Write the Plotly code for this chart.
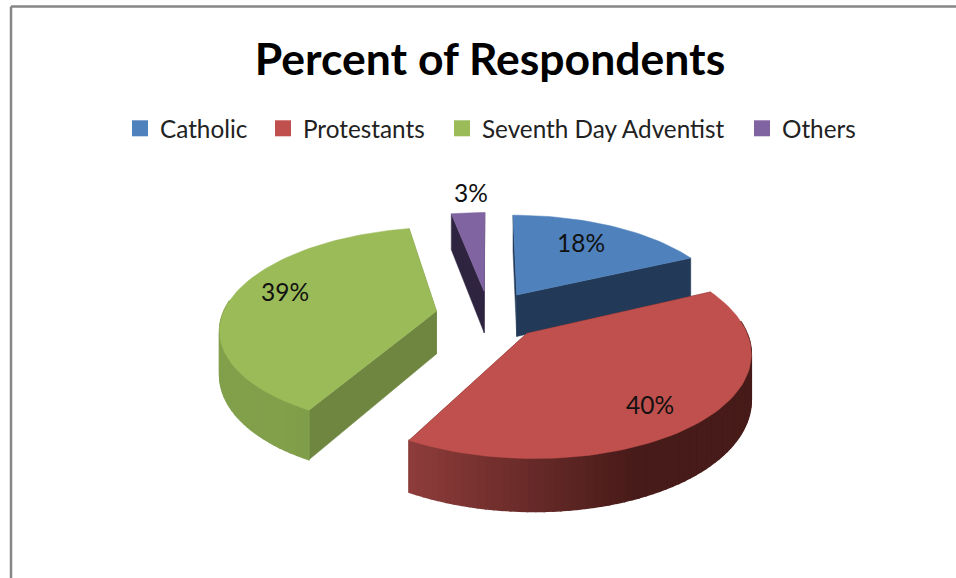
import numpy as np
import plotly.graph_objects as go

categories = ["Catholic", "Protestants", "Seventh Day Adventist", "Others"]
percent = [18, 40, 39, 3]
colors = ["#4f81bd", "#c0504d", "#9bbb59", "#8064a2"]
cut_colors = ["#223a58", "#5a2120", "#6e8640", "#2f2440"]
wall_near = ["#2c4a70", "#8e3d3b", "#7a9847", "#3a2c50"]
wall_far = ["#223a58", "#471b19", "#82a04b", "#2f2440"]
legend_x = [120, 263, 442, 742]

W, H = 956, 578
CX, CY = 489, 315
R = 214
TILT = 0.46
PERSP = 0.16
EXPLODE = 0.25
DEPTH = 43


def rgb(h):
    return np.array([int(h[i:i + 2], 16) for i in (1, 3, 5)], float)


def project(X, Y, z=0.0):
    s = 1.0 / (1.0 + PERSP * Y)
    return CX + R * X * s, CY - R * TILT * Y * s + DEPTH * z * s * 1.0


def poly(xs, ys, color, width=1.0):
    return go.Scatter(x=list(xs) + [xs[0]], y=list(ys) + [ys[0]], mode="lines", fill="toself",
                      fillcolor=color, line=dict(color=color, width=width),
                      hoverinfo="skip", showlegend=False)


fractions = np.array(percent, float) / sum(percent)
edges = np.concatenate([[0], np.cumsum(fractions)]) * 2 * np.pi

fig = go.Figure()
order = [3, 0, 2, 1]
for i in order:
    a0, a1 = edges[i], edges[i + 1]
    mid = (a0 + a1) / 2
    ex, ey = EXPLODE * np.sin(mid), EXPLODE * np.cos(mid)
    th = np.linspace(a0, a1, max(8, int(percent[i] * 2)))
    X = ex + np.sin(th)
    Y = ey + np.cos(th)

    # radial cut faces
    for ang in (a0, a1):
        n = np.array([np.sin(ang), np.cos(ang)])
        px0, py0 = project(ex, ey, 0)
        px1, py1 = project(ex + n[0], ey + n[1], 0)
        px2, py2 = project(ex + n[0], ey + n[1], 1)
        px3, py3 = project(ex, ey, 1)
        fig.add_trace(poly([px0, px1, px2, px3], [py0, py1, py2, py3], cut_colors[i], 0.5))

    # outer wall with gradient along the arc
    tx, ty = project(X, Y, 0)
    bx, by = project(X, Y, 1)
    c0, c1 = rgb(wall_near[i]), rgb(wall_far[i])
    xmin, xmax = tx.min(), tx.max()
    for k in range(len(th) - 1):
        if np.cos((th[k] + th[k + 1]) / 2) > 0.12:
            continue
        t = ((tx[k] + tx[k + 1]) / 2 - xmin) / max(xmax - xmin, 1)
        if i == 2:
            t = 1 - t
        c = c0 + (c1 - c0) * min(t * 1.5, 1)
        col = "rgb(%d,%d,%d)" % tuple(c)
        fig.add_trace(poly([tx[k], tx[k + 1], bx[k + 1], bx[k]],
                           [ty[k], ty[k + 1], by[k + 1], by[k]], col, 1.4))

    # top face
    ax, ay = project(ex, ey, 0)
    fig.add_trace(poly([ax] + list(tx), [ay] + list(ty), colors[i], 0.5))

# legend entries, one legend per entry so each can sit at its own position
layout_legends = {}
for n, (name, color, lx) in enumerate(zip(categories, colors, legend_x)):
    key = "legend" if n == 0 else f"legend{n + 1}"
    fig.add_trace(go.Scatter(x=[None], y=[None], mode="markers", name=name, legend=key, showlegend=True,
                             marker=dict(symbol="square", size=16, color=color), hoverinfo="skip"))
    layout_legends[key] = dict(x=lx / W, xanchor="left", y=1 - 128.5 / H, yanchor="middle",
                               font=dict(family="Lato", size=24.3, color="#222222"),
                               bgcolor="rgba(0,0,0,0)", itemclick=False, itemdoubleclick=False)

label_xy = [(581, 242), (650, 404), (285, 291), (471, 192)]
for p, (lx, ly) in zip(percent, label_xy):
    fig.add_annotation(x=lx, y=ly, text=f"{p}%", showarrow=False,
                       font=dict(family="Lato", size=24.5, color="#111111"))

fig.update_layout(
    width=W, height=H, margin=dict(l=0, r=0, t=0, b=0),
    paper_bgcolor="white", plot_bgcolor="white",
    xaxis=dict(range=[0, W], visible=False, fixedrange=True),
    yaxis=dict(range=[H, 0], visible=False, fixedrange=True),
    title=dict(text="<b>Percent of Respondents</b>", x=490 / W, xanchor="center", y=1 - 59 / H, yanchor="middle",
               font=dict(family="Lato", size=44.5, color="black")),
    shapes=[
        dict(type="line", xref="paper", yref="paper", x0=11 / W, x1=1, y0=1 - 6.5 / H, y1=1 - 6.5 / H,
             line=dict(color="#868686", width=2.5)),
        dict(type="line", xref="paper", yref="paper", x0=11 / W, x1=11 / W, y0=0, y1=1 - 6.5 / H,
             line=dict(color="#868686", width=2.5)),
    ],
    **layout_legends,
)
fig.write_html("out.html", config=dict(displayModeBar=False),
               post_script="document.body.style.margin='0';")
